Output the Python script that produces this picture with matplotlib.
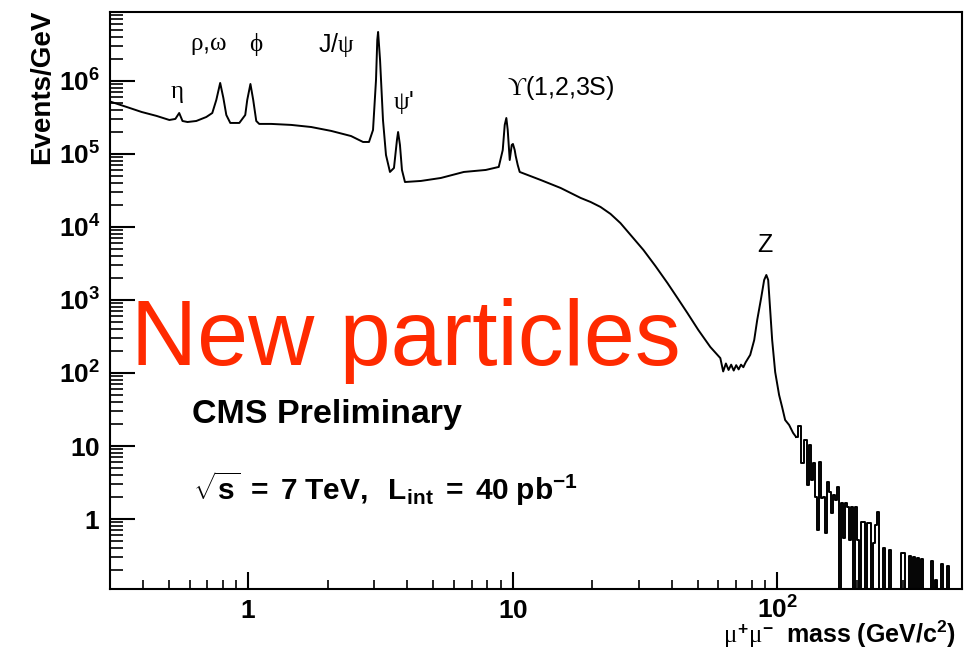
import numpy as np
import matplotlib
matplotlib.use("Agg")
import matplotlib.pyplot as plt
from matplotlib.ticker import LogLocator, NullFormatter, FixedLocator, FixedFormatter

plt.rcParams['font.family'] = ['Liberation Sans', 'DejaVu Sans']
plt.rcParams['mathtext.fontset'] = 'custom'
plt.rcParams['mathtext.rm'] = 'Liberation Sans'
plt.rcParams['mathtext.sf'] = 'Liberation Sans'
plt.rcParams['mathtext.bf'] = 'Liberation Sans:bold'
plt.rcParams['mathtext.it'] = 'Liberation Serif'

# dimuon spectrum, smooth part (mass in GeV, events per GeV)
mass = [0.304, 0.347, 0.395, 0.450, 0.503, 0.530, 0.548, 0.564, 0.589, 0.636,
        0.694, 0.731, 0.757, 0.783, 0.805, 0.826, 0.855, 0.925, 0.974, 0.991,
        1.019, 1.044, 1.072, 1.100, 1.221, 1.453, 1.729, 2.057, 2.447, 2.716,
        2.861, 2.963, 3.041, 3.075, 3.097, 3.150, 3.232, 3.317, 3.434, 3.556,
        3.650, 3.686, 3.746, 3.812, 3.913, 4.496, 5.349, 6.534, 7.909, 8.854,
        9.167, 9.328, 9.460, 9.574, 9.743, 9.914, 10.02, 10.175, 10.264, 10.444,
        10.627, 12.76, 15.18, 18.06, 19.70, 21.48, 23.43, 25.55, 28.12, 31.21,
        34.64, 38.46, 41.94, 45.76, 50.34, 55.88,
        60.96, 62.5, 64.0, 65.5, 67.0, 68.5, 70.0, 71.5, 73.0, 74.5,
        76.0, 79.09, 81.89, 84.05, 87.00, 89.30, 91.0, 92.48, 94.1, 95.74,
        98.29, 101.7, 104.4, 107.2, 111.0, 114.9, 117.9]
rate = [5.15e5, 4.40e5, 3.76e5, 3.32e5, 2.92e5, 3.02e5, 3.64e5, 2.83e5, 2.74e5, 2.83e5,
        3.21e5, 3.64e5, 5.49e5, 9.39e5, 5.85e5, 3.42e5, 2.66e5, 2.66e5, 3.42e5, 5.49e5,
        9.09e5, 5.49e5, 2.83e5, 2.58e5, 2.58e5, 2.50e5, 2.34e5, 2.07e5, 1.76e5, 1.46e5,
        1.46e5, 2.13e5, 1.03e6, 3.64e6, 4.69e6, 1.94e6, 2.90e5, 9.69e4, 5.67e4, 6.43e4,
        1.56e5, 2.00e5, 1.33e5, 6.04e4, 4.13e4, 4.27e4, 4.69e4, 5.67e4, 6.04e4, 6.64e4,
        1.13e5, 2.50e5, 3.11e5, 2.13e5, 8.27e4, 1.33e5, 1.37e5, 1.13e5, 9.39e4, 7.07e4,
        5.67e4, 4.40e4, 3.42e4, 2.50e4, 2.20e4, 1.88e4, 1.51e4, 1.13e4, 7.53e3, 4.84e3,
        2.92e3, 1.71e3, 1.07e3, 6.64e2, 3.88e2, 2.27e2,
        1.60e2, 1.05e2, 1.35e2, 1.10e2, 1.30e2, 1.08e2, 1.28e2, 1.12e2, 1.30e2, 1.20e2,
        1.40e2, 1.77e2, 2.83e2, 5.32e2, 1.07e3, 1.88e3, 2.20e3, 1.88e3, 7.30e2, 2.83e2,
        1.03e2, 50.0, 34.2, 22.7, 19.4, 15.1, 13.3]

# high-mass tail, binned (zero = empty bin)
tail_mass = [117.9, 122.1, 124.2, 127.5, 130.9, 133.2, 135.5, 137.9, 140.3, 142.8,
             145.3, 147.8, 150.4, 153.0, 155.7, 158.5, 161.3, 164.1, 167.0, 169.9,
             172.9, 175.9, 179.0, 182.2, 185.3, 188.6, 191.9, 195.3, 198.7, 202.2,
             205.7, 209.3, 213.0, 216.7, 220.5, 224.4, 228.3, 232.3, 236.4, 240.5,
             244.7, 249.0, 253.4, 257.8, 262.4, 267.0, 271.6, 276.4, 281.2, 286.1,
             291.2, 296.3, 301.5, 306.8, 312.2, 317.6, 323.2, 328.8, 334.6, 340.5,
             346.4, 352.5, 358.7, 365.0, 371.4, 377.9, 384.6, 391.3, 398.1, 405.1,
             412.2, 419.4, 426.8, 434.3, 441.9, 449.6, 457.5]
tail_rate = [13.3, 18.8, 5.85, 12.1, 2.92, 10.3, 3.42, 5.85, 2.0, 0.707,
             6.04, 1.94, 2.0, 0.643, 3.21, 2.34, 1.21, 2.13, 1.82, 2.74,
             0, 1.66, 0.549, 1.66, 1.46, 0.516, 1.46, 0, 1.46, 0.516,
             0, 0.91, 0.91, 0, 0.88, 0.88, 0, 0.469, 0.827, 1.25,
             0, 0, 0.401, 0, 0, 0.376, 0, 0, 0, 0,
             0, 0.342, 0.342, 0, 0, 0.311, 0, 0.302, 0, 0.292,
             0, 0.283, 0, 0, 0, 0, 0.266, 0, 0.146, 0,
             0, 0.242, 0, 0, 0.227, 0, 0]

# resonance labels
res_names = [r"$\eta$", r"$\rho$,$\omega$", r"$\phi$", r"J/$\psi$", r"$\psi$'",
             r"$ϒ$(1,2,3S)", "Z"]
res_x = [0.535, 0.706, 1.072, 2.15, 3.88, 15.2, 90.1]
res_y = [6.85e5, 3.11e6, 3.11e6, 3.11e6, 5.0e5, 8.0e5, 5.67e3]

xticks = [1, 10, 100]
xticklabels = [r"$\mathbf{1}$", r"$\mathbf{10}$", r"$\mathbf{10^{2}}$"]
yticks = [1, 10, 1e2, 1e3, 1e4, 1e5, 1e6]
yticklabels = [r"$\mathbf{1}$", r"$\mathbf{10}$", r"$\mathbf{10^{2}}$", r"$\mathbf{10^{3}}$",
               r"$\mathbf{10^{4}}$", r"$\mathbf{10^{5}}$", r"$\mathbf{10^{6}}$"]

fig = plt.figure(figsize=(9.76, 6.5), dpi=100)
ax = fig.add_axes([110 / 976, 61 / 650, 852 / 976, 577 / 650])
ax.set_xscale("log")
ax.set_yscale("log")

ax.plot(mass, rate, color="black", lw=1.4)
ax.plot(tail_mass, tail_rate, color="black", lw=1.4, drawstyle="steps-mid")

ax.set_xlim(0.3, 500)
ax.set_ylim(0.11, 8.8e6)

ax.xaxis.set_major_locator(FixedLocator(xticks))
ax.xaxis.set_major_formatter(FixedFormatter(xticklabels))
ax.yaxis.set_major_locator(FixedLocator(yticks))
ax.yaxis.set_major_formatter(FixedFormatter(yticklabels))
ax.xaxis.set_minor_locator(LogLocator(base=10, subs=np.arange(2, 10), numticks=100))
ax.yaxis.set_minor_locator(LogLocator(base=10, subs=np.arange(2, 10), numticks=100))
ax.xaxis.set_minor_formatter(NullFormatter())
ax.yaxis.set_minor_formatter(NullFormatter())

ax.tick_params(axis="y", which="major", direction="in", length=18, width=1.5,
               pad=7, labelsize=19, right=False)
ax.tick_params(axis="y", which="minor", direction="in", length=9.5, width=1.2, right=False)
ax.tick_params(axis="x", which="major", direction="in", length=12.5, width=1.5,
               pad=21, labelsize=19, top=False)
ax.tick_params(axis="x", which="minor", direction="in", length=6.5, width=1.2, top=False)
for lab in ax.get_xticklabels():
    lab.set_verticalalignment("baseline")
for sp in ax.spines.values():
    sp.set_linewidth(1.5)

for name, x, y in zip(res_names, res_x, res_y):
    ax.text(x, y, name, fontsize=18, ha="center", va="center")

fig.text(192 / 976, 1 - 414 / 650, "CMS Preliminary", fontsize=24.5,
         fontweight="bold", va="center", ha="left")
fig.text(193 / 976, 1 - 489 / 650,
         r"$\sqrt{\mathbf{s}}\mathbf{\ =\ 7\ TeV,\ \ L_{int}\ =\ 40\ pb^{-1}}$",
         fontsize=21.5, va="center", ha="left")

fig.text(131 / 976, 1 - 365 / 650, "New particles", color="#ff2a00", fontsize=66,
         ha="left", va="baseline")

fig.text(42 / 976, 1 - 10 / 650, "Events/GeV", rotation=90, fontsize=20,
         fontweight="bold", ha="center", va="top")
fig.text(956 / 976, 7 / 650,
         r"$\mu^{\mathbf{+}}\mu^{\mathbf{-}}\ \ \mathbf{mass\ (GeV/c^{2})}$",
         fontsize=18, ha="right", va="baseline")

fig.savefig("out.png", dpi=100)
